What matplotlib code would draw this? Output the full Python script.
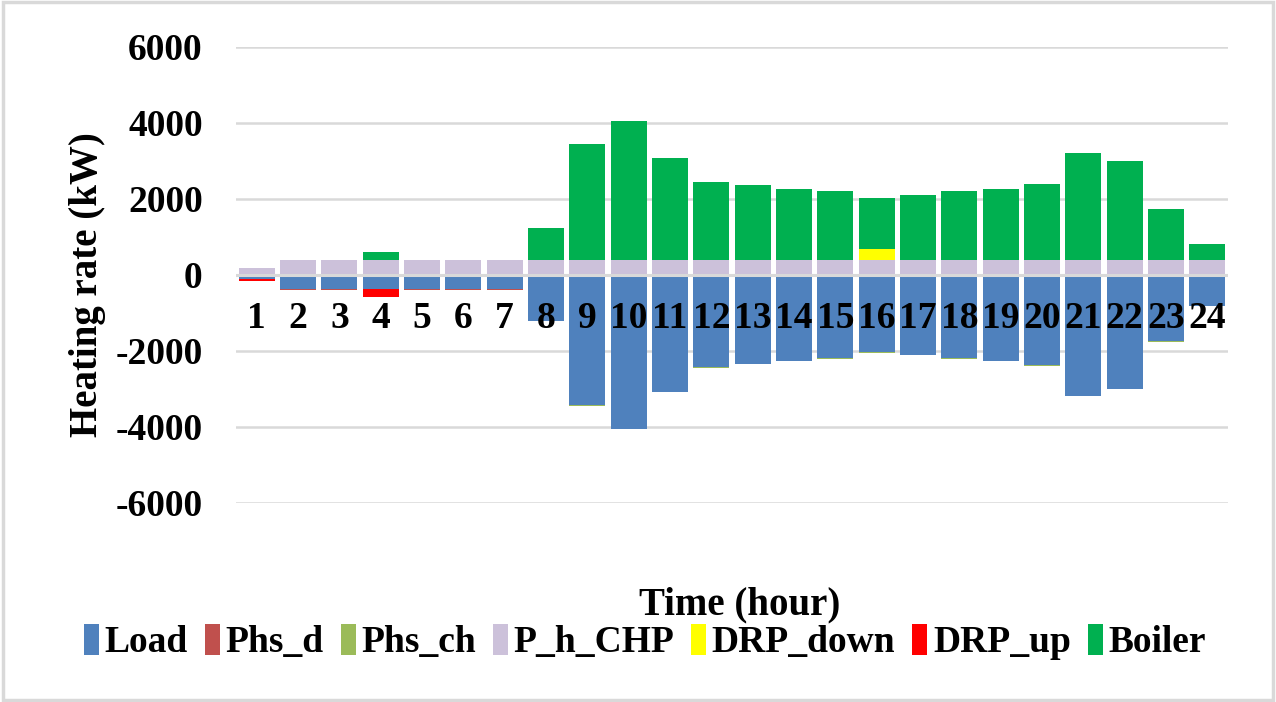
import numpy as np
import matplotlib.pyplot as plt
from matplotlib.patches import Rectangle
from matplotlib.transforms import offset_copy

plt.rcParams['font.family'] = ['Liberation Serif', 'DejaVu Serif']
plt.rcParams['font.weight'] = 'bold'
plt.rcParams['axes.unicode_minus'] = False

hours = [str(h) for h in range(1, 25)]

load = [-110, -380, -380, -380, -380, -380, -380, -1210, -3430, -4040, -3075, -2420,
        -2340, -2260, -2190, -2030, -2100, -2190, -2260, -2380, -3180, -2990, -1740, -820]
phs_d = [0, -20, -20, 0, -20, -20, -20, 0, 0, 0, 0, 0,
         0, 0, 0, 0, 0, 0, 0, 0, 0, 0, 0, 0]
phs_ch = [0, 0, 0, 0, 0, 0, 0, -10, -15, -15, -15, -15,
          -15, -15, -15, -15, -15, -15, -15, -15, -15, -15, -10, 0]
p_h_chp = [180, 400, 400, 400, 400, 400, 400, 400, 400, 400, 400, 400,
           400, 400, 400, 400, 400, 400, 400, 400, 400, 400, 400, 400]
drp_down = [0, 0, 0, 0, 0, 0, 0, 0, 0, 0, 0, 0,
            0, 0, 0, 290, 0, 0, 0, 0, 0, 0, 0, 0]
drp_up = [-60, 0, 0, -200, 0, 0, 0, 0, 0, 0, 0, 0,
          0, 0, 0, 0, 0, 0, 0, 0, 0, 0, 0, 0]
boiler = [0, 0, 0, 210, 0, 0, 0, 825, 3045, 3640, 2680, 2040,
          1965, 1870, 1800, 1345, 1705, 1800, 1870, 2000, 2800, 2600, 1350, 425]

series = [("Load", load, "#4F81BD"),
          ("Phs_d", phs_d, "#C0504D"),
          ("Phs_ch", phs_ch, "#9BBB59"),
          ("P_h_CHP", p_h_chp, "#CCC1DA"),
          ("DRP_down", drp_down, "#FFFF00"),
          ("DRP_up", drp_up, "#FF0000"),
          ("Boiler", boiler, "#00B050")]

fig = plt.figure(figsize=(12.76, 7.02), dpi=100)
ax = fig.add_axes([236/1276, 1-503/702, (1228-236)/1276, (503-47)/702])

x = np.arange(len(hours))
pos = np.zeros(len(hours))
neg = np.zeros(len(hours))
for name, vals, col in series:
    v = np.array(vals, dtype=float)
    base = np.where(v >= 0, pos, neg)
    ax.bar(x, v, 0.87, bottom=base, color=col, label=name, zorder=3)
    pos = pos + np.clip(v, 0, None)
    neg = neg + np.clip(v, None, 0)

ax.set_xlim(-0.5, 23.5)
ax.set_ylim(-6000, 6000)
ax.set_yticks(range(-6000, 6001, 2000))
ax.yaxis.grid(True, color='#D9D9D9', linewidth=1.8)
ax.set_axisbelow(True)
ax.axhline(0, color='#D9D9D9', linewidth=2.2, zorder=4)
for s in ax.spines.values():
    s.set_visible(False)
ax.set_xticks([])
ax.tick_params(axis='y', length=0, pad=24, labelsize=27)

# category labels sit just under the zero line, on top of the bars
lab_tr = offset_copy(ax.transData, fig=fig, y=-44, units='dots')
for xi, h in zip(x, hours):
    ax.text(xi, 0, h, transform=lab_tr, ha='center', va='center', fontsize=27,
            fontweight='bold', zorder=6)

fig.text(88/1276, 1-285/702, "Heating rate (kW)", rotation=90, fontsize=28,
         fontweight='bold', ha='center', va='center')
fig.text(740/1276, 1-605/702, "Time (hour)", fontsize=28, fontweight='bold',
         ha='center', va='center')

fig.legend(loc='center', bbox_to_anchor=(645/1276, 1-642/702), ncol=7, frameon=False,
           fontsize=27, handlelength=0.4, handleheight=0.9, handletextpad=0.15,
           columnspacing=0.45)

fig.patches.append(Rectangle((0.002, 0.003), 0.996, 0.994, transform=fig.transFigure,
                             fill=False, edgecolor='#D9D9D9', linewidth=2.5))

fig.savefig("out.png", dpi=100)
